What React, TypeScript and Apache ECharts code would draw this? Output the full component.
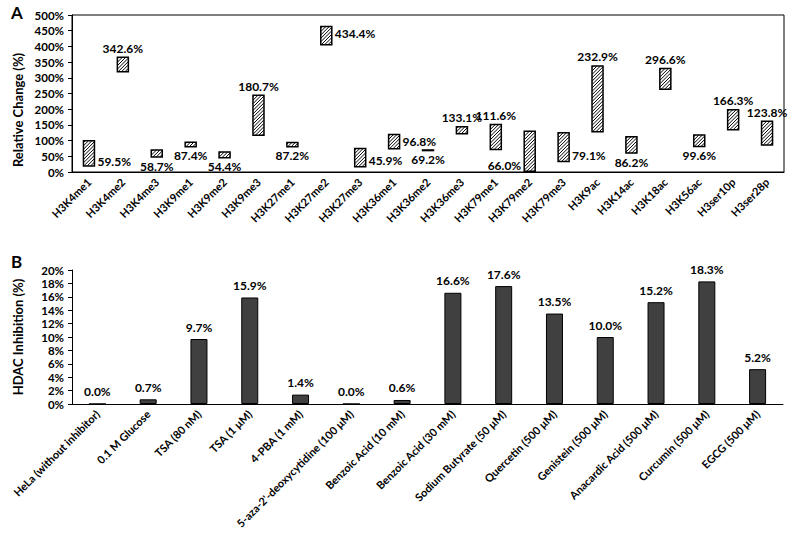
import React, { useEffect, useRef } from "react";
import * as echarts from "echarts";

const marksA = [
  "H3K4me1", "H3K4me2", "H3K4me3", "H3K9me1", "H3K9me2", "H3K9me3", "H3K27me1",
  "H3K27me2", "H3K27me3", "H3K36me1", "H3K36me2", "H3K36me3", "H3K79me1", "H3K79me2",
  "H3K79me3", "H3K9ac", "H3K14ac", "H3K18ac", "H3K56ac", "H3ser10p", "H3ser28p",
];
const meansA = [59.5, 342.6, 58.7, 87.4, 54.4, 180.7, 87.2, 434.4, 45.9, 96.8, 69.2, 133.1, 111.6, 66.0, 79.1, 232.9, 86.2, 296.6, 99.6, 166.3, 123.8];
const errsA = [40, 23, 11, 7, 9, 64, 7, 29, 29, 23, 1, 11, 40, 64, 46, 105, 26, 33, 18, 32, 38];
const ticksA = { min: 0, max: 500, interval: 50 };

const labelPosA = [
  "right", "top", "bottom", "bottom", "bottom", "top", "bottom", "right", "right", "right", "bottom",
  "top", "top", "left", "right", "top", "bottom", "top", "bottom", "top", "top",
];
const labelOffA: number[][] = [
  [0, 8], [0, 0], [0, 0], [0, 0], [0, 0], [0, 0], [0, 0], [0, -2], [0, 3], [0, 0], [0, 0],
  [0, 0], [0, 0], [0, 14], [0, 8], [0, 0], [0, 0], [0, 0], [0, 0], [0, 0], [0, 0],
];

const treatmentsB = [
  "HeLa (without inhibitor)", "0.1 M Glucose", "TSA (80 nM)", "TSA (1 μM)", "4-PBA (1 mM)",
  "5-aza-2'-deoxycytidine (100 μM)", "Benzoic Acid (10 mM)", "Benzoic Acid (30 mM)",
  "Sodium Butyrate (50 μM)", "Quercetin (500 μM)", "Genistein (500 μM)",
  "Anacardic Acid (500 μM)", "Curcumin (500 μM)", "EGCG (500 μM)",
];
const inhibitionB = [0.0, 0.7, 9.7, 15.9, 1.4, 0.0, 0.6, 16.6, 17.6, 13.5, 10.0, 15.2, 18.3, 5.2];
const ticksB = { min: 0, max: 20, interval: 2 };

const FONT = "Lato";
const BOX_W = 11;
const HATCH_STEP = 3.4;

function renderBox(params: any, api: any) {
  const idx = api.value(0);
  const lo = api.coord([idx, api.value(1)]);
  const hi = api.coord([idx, api.value(2)]);
  const L = hi[0] - BOX_W / 2;
  const R = hi[0] + BOX_W / 2;
  const T = hi[1];
  const B = lo[1];
  const children: any[] = [
    { type: "rect", shape: { x: L, y: T, width: R - L, height: B - T }, style: { fill: "#fff", stroke: null } },
  ];
  // "/" hatch lines: x + y = c
  for (let c = L + T + HATCH_STEP / 2; c < R + B; c += HATCH_STEP) {
    const xa = Math.max(L, c - B);
    const xb = Math.min(R, c - T);
    if (xb > xa) {
      children.push({
        type: "line",
        shape: { x1: xa, y1: c - xa, x2: xb, y2: c - xb },
        style: { stroke: "#000", lineWidth: 1 },
      });
    }
  }
  children.push({
    type: "rect",
    shape: { x: L, y: T, width: R - L, height: B - T },
    style: { fill: null, stroke: "#000", lineWidth: 1.5 },
  });
  return { type: "group", children };
}

export default function App() {
  const ref = useRef<HTMLDivElement>(null);
  useEffect(() => {
    if (!ref.current) return;
    const chart = echarts.init(ref.current, null, { renderer: "svg" });
    const txt = { fontFamily: FONT, fontWeight: "bold" as const, color: "#000" };
    const option: any = {
      animation: false,
      backgroundColor: "#fff",
      textStyle: { fontFamily: FONT },
      grid: [
        { left: 72, top: 15, width: 712, height: 157, show: true, borderColor: "#000", borderWidth: 1, backgroundColor: "transparent" },
        { left: 72, top: 270, width: 711, height: 134 },
      ],
      xAxis: [
        {
          gridIndex: 0, type: "category", data: marksA,
          axisLine: { lineStyle: { color: "#000", width: 1 } },
          axisTick: { show: false },
          axisLabel: { ...txt, fontSize: 11, rotate: 45, interval: 0, margin: 8 },
        },
        {
          gridIndex: 1, type: "category", data: treatmentsB,
          axisLine: { lineStyle: { color: "#000", width: 1 } },
          axisTick: { show: false },
          axisLabel: { ...txt, fontSize: 11, rotate: 45, interval: 0, margin: 8 },
        },
      ],
      yAxis: [
        {
          gridIndex: 0, type: "value", ...ticksA,
          axisLine: { show: true, lineStyle: { color: "#000" } },
          axisTick: { show: true, length: 4, lineStyle: { color: "#000" } },
          splitLine: { show: false },
          axisLabel: { ...txt, fontSize: 11.5, formatter: "{value}%", margin: 8 },
        },
        {
          gridIndex: 1, type: "value", ...ticksB,
          axisLine: { show: true, lineStyle: { color: "#000" } },
          axisTick: { show: true, length: 4, lineStyle: { color: "#000" } },
          splitLine: { show: false },
          axisLabel: { ...txt, fontSize: 11.5, formatter: "{value}%", margin: 8 },
        },
      ],
      series: [
        {
          type: "bar", xAxisIndex: 0, yAxisIndex: 0, stack: "a", barWidth: BOX_W,
          itemStyle: { color: "transparent" },
          silent: true,
          data: meansA.map((m, i) => m - errsA[i]),
        },
        {
          type: "bar", xAxisIndex: 0, yAxisIndex: 0, stack: "a", barWidth: BOX_W,
          itemStyle: { color: "transparent", borderWidth: 0 },
          label: {
            show: true, ...txt, fontSize: 12, distance: 3,
            formatter: (p: any) => meansA[p.dataIndex].toFixed(1) + "%",
          },
          z: 5,
          data: errsA.map((e, i) => ({
            value: 2 * e,
            label: { position: labelPosA[i], offset: labelOffA[i] },
          })),
        },
        {
          type: "custom", xAxisIndex: 0, yAxisIndex: 0,
          renderItem: renderBox,
          encode: { x: 0, y: [1, 2] },
          z: 3,
          data: meansA.map((m, i) => [i, m - errsA[i], m + errsA[i]]),
        },
        {
          type: "bar", xAxisIndex: 1, yAxisIndex: 1, barWidth: 17,
          itemStyle: { color: "#404040", borderColor: "#000", borderWidth: 1 },
          label: {
            show: true, position: "top", ...txt, fontSize: 12, distance: 6,
            formatter: (p: any) => Number(p.value).toFixed(1) + "%",
          },
          data: inhibitionB,
        },
      ],
      graphic: [
        { type: "text", left: 11, top: 4, style: { text: "A", font: `bold 17px ${FONT}`, fill: "#000" } },
        { type: "text", left: 11, top: 253, style: { text: "B", font: `bold 17px ${FONT}`, fill: "#000" } },
        {
          type: "text", x: 18, y: 110, rotation: Math.PI / 2,
          style: { text: "Relative Change (%)", font: `bold 13px ${FONT}`, fill: "#000", align: "center", verticalAlign: "middle" },
        },
        {
          type: "text", x: 18, y: 337, rotation: Math.PI / 2,
          style: { text: "HDAC Inhibition (%)", font: `bold 13px ${FONT}`, fill: "#000", align: "center", verticalAlign: "middle" },
        },
      ],
    };
    chart.setOption(option);
    return () => chart.dispose();
  }, []);
  return (
    <div
      ref={ref}
      style={{ position: "fixed", left: 0, top: 0, width: 795, height: 549, background: "#fff" }}
    />
  );
}
